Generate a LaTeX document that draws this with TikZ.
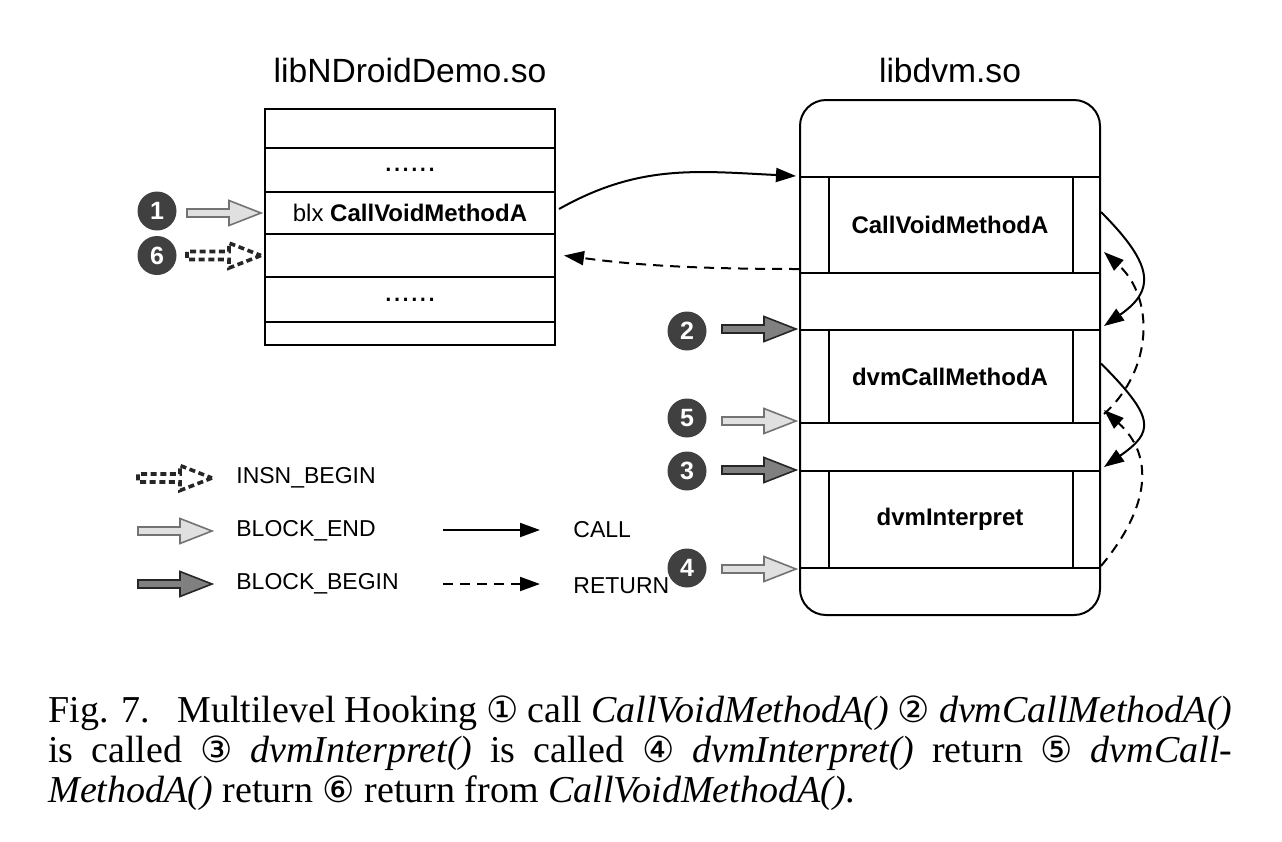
\documentclass[tikz,border=0pt]{standalone}
\usepackage{fontspec}
\setmainfont{Liberation Sans}
\newfontfamily\capfont{Liberation Serif}
\newfontfamily\circfont{DejaVu Sans}[Scale=0.95]
\usetikzlibrary{positioning, calc, arrows.meta}

\tikzset{
  box/.style={draw, line width=1pt, inner sep=0pt},
  demo row/.style={box, minimum width=145pt, font=\fontsize{12}{14}\selectfont},
  dvm row/.style={box, minimum width=150pt, font=\bfseries\fontsize{12}{14}\selectfont},
  lib title/.style={font=\fontsize{16.8}{20}\selectfont},
  marker/.style={circle, fill=black!75, text=white, minimum size=19.5pt, inner sep=0pt,
    font=\bfseries\fontsize{12.5}{14}\selectfont},
  call/.style={->, line width=1pt},
  return/.style={->, line width=1pt, dash pattern=on 5pt off 3.5pt},
  legend/.style={anchor=west, inner sep=0pt, font=\fontsize{11.5}{13}\selectfont},
  caption line/.style={anchor=base west, inner sep=0pt, font=\capfont\fontsize{19}{20}\selectfont},
  block end/.style={fill=black!12, draw=black!55, line width=0.8pt},
  block begin/.style={fill=black!50, draw=black!85, line width=0.8pt},
  insn begin/.style={draw=black!85, line width=1.8pt, dash pattern=on 3pt off 1.8pt},
  fat arrow/.pic={
    \path[pic actions] (0,0) -- (-32,12.5) -- (-32,4) -- (-74,4) -- (-74,-4)
      -- (-32,-4) -- (-32,-12.5) -- cycle;
  }
}

\begin{document}
\begin{tikzpicture}[x=0.5pt, y=-0.5pt, >={Triangle[length=10pt, width=7pt]}]
  \useasboundingbox (0,0) rectangle (1282,842);

  % libNDroidDemo.so
  \node [lib title] (demo-title) at (410,70) {libNDroidDemo.so};
  \foreach \m/\yc/\h/\t in {1/128.5/39/{}, 2/170/44/{\fontsize{15.5}{16}\selectfont ......},
      3/213/42/{blx \textbf{CallVoidMethodA}}, 4/255.5/43/{},
      5/299.5/45/{\fontsize{15.5}{16}\selectfont ......}, 6/333.5/23/{}}
  \node [demo row, minimum height=\h*0.5pt] (demo-\m) at (410,\yc) {\t};

  % libdvm.so
  \node [lib title] (dvm-title) at (950,70) {libdvm.so};
  \node [box, rounded corners=13pt, minimum width=150pt, minimum height=257.5pt] (dvm) at (950,357.5) {};
  \node [dvm row, minimum height=48pt] (callvoid) at (950,225) {CallVoidMethodA};
  \node [dvm row, minimum height=46.5pt] (dvmcall) at (950,376.5) {dvmCallMethodA};
  \node [dvm row, minimum height=48.5pt] (interp) at (950,519.5) {dvmInterpret};
  \foreach \b in {callvoid, dvmcall, interp} {
    \draw [line width=1pt] ($(\b.north west)+(30,0)$) -- ($(\b.south west)+(30,0)$);
    \draw [line width=1pt] ($(\b.north east)+(-28,0)$) -- ($(\b.south east)+(-28,0)$);
  }

  % markers
  \pic [block end] at ($(demo-3.west)+(-3,0)$) {fat arrow};
  \node [marker] (m1) at ($(demo-3.west)+(-107,-2)$) {1};
  \pic [insn begin] at ($(demo-4.west)+(-3,0)$) {fat arrow};
  \node [marker] (m6) at ($(demo-4.west)+(-107,0)$) {6};
  \pic [block begin] at ($(dvmcall.north west)+(-3,0)$) {fat arrow};
  \node [marker] (m2) at ($(dvmcall.north west)+(-112,2)$) {2};
  \pic [block end] at ($(dvmcall.south west)+(-3,-3)$) {fat arrow};
  \node [marker] (m5) at ($(dvmcall.south west)+(-112,-6)$) {5};
  \pic [block begin] at ($(interp.north west)+(-3,0)$) {fat arrow};
  \node [marker] (m3) at ($(interp.north west)+(-112,1)$) {3};
  \pic [block end] at ($(interp.south west)+(-3,0)$) {fat arrow};
  \node [marker] (m4) at ($(interp.south west)+(-112,-1)$) {4};

  % calls and returns
  \draw [call] ($(demo-3.east)+(3,-4)$) .. controls +(80,-45) and +(-100,-5) .. ($(callvoid.north west)+(-3,0)$);
  \draw [return] ($(callvoid.south west)+(0,-5)$) .. controls +(-120,0) and +(60,8) .. ($(demo-4.east)+(8,0)$);
  \draw [call] ($(callvoid.east)+(0,-13)$) .. controls +(55,55) and +(50,-35) .. ($(dvmcall.north east)+(3,-3)$);
  \draw [call] ($(dvmcall.east)+(0,-13)$) .. controls +(55,55) and +(50,-35) .. ($(interp.north east)+(3,-3)$);
  \draw [return] ($(interp.south east)+(0,-3)$) .. controls +(50,-60) and +(50,45) .. ($(dvmcall.south east)+(3,-14)$);
  \draw [return] ($(dvmcall.south east)+(3,-10)$) .. controls +(50,-45) and +(50,45) .. ($(callvoid.south east)+(3,-22)$);

  % legend
  \node [legend] (lg-insn) at (236,478) {INSN\_BEGIN};
  \node [legend] (lg-end) at (236,531) {BLOCK\_END};
  \node [legend] (lg-begin) at (236,584) {BLOCK\_BEGIN};
  \pic [insn begin] at ($(lg-insn.west)+(-24,0)$) {fat arrow};
  \pic [block end] at ($(lg-end.west)+(-24,0)$) {fat arrow};
  \pic [block begin] at ($(lg-begin.west)+(-24,0)$) {fat arrow};
  \coordinate (lg-call-a) at (443,530);
  \coordinate (lg-call-b) at (540,530);
  \draw [call] (lg-call-a) -- (lg-call-b);
  \node [legend] (lg-call) at (573,530) {CALL};
  \coordinate (lg-ret-a) at (443,584);
  \coordinate (lg-ret-b) at (540,584);
  \draw [return] (lg-ret-a) -- (lg-ret-b);
  \node [legend] (lg-ret) at (573,586) {RETURN};

  % caption
  \node [caption line] (cap-1) at (48,722) {\makebox[592pt][s]{Fig. 7.\enspace\ Multilevel Hooking {\circfont ①} call \textit{CallVoidMethodA()} {\circfont ②} \textit{dvmCallMethodA()}}};
  \node [caption line] (cap-2) at (48,762) {\makebox[592pt][s]{is called {\circfont ③} \textit{dvmInterpret()} is called {\circfont ④} \textit{dvmInterpret()} return {\circfont ⑤} \textit{dvmCall-}}};
  \node [caption line] (cap-3) at (48,802) {\textit{MethodA()} return {\circfont ⑥} return from \textit{CallVoidMethodA()}.};

\end{tikzpicture}
\end{document}
